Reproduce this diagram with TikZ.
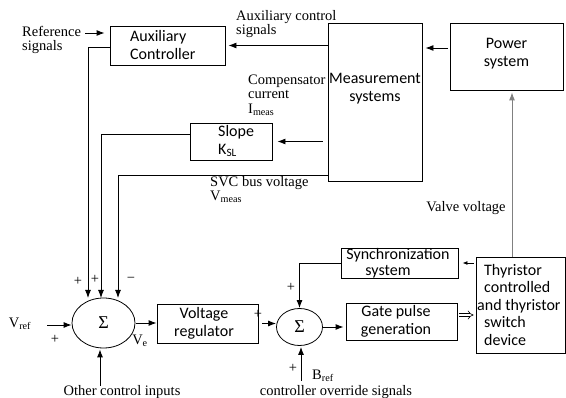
\documentclass[tikz,border=0pt]{standalone}
\usepackage{fontspec}
\setmainfont{Liberation Serif}
\newfontfamily\boxfont{Carlito}
\usetikzlibrary{arrows.meta,shapes.geometric}
\begin{document}
\begin{tikzpicture}[x=1pt,y=-1pt,
  box/.style={draw, line width=0.9pt, inner sep=0pt},
  btxt/.style={inner sep=0pt, font=\boxfont\fontsize{16}{18}\selectfont},
  lbl/.style={font=\fontsize{14.5}{14.5}\selectfont, inner sep=0pt, align=left},
  arr/.style={line width=0.9pt, -{Latex[length=8pt,width=6pt]}},
  sarr/.style={line width=0.9pt, -{Latex[length=5pt,width=4pt]}},
  dbl/.style={double, double distance=2.5pt, line width=0.6pt, -{Implies}},
  sig/.style={draw, ellipse, line width=0.8pt, inner sep=0pt, font=\fontsize{18}{18}\selectfont},
]
\useasboundingbox (0,0) rectangle (566,398);
% boxes
\node[box, minimum width=115pt, minimum height=39pt] (aux) at (167.5,45.5) {};
\node[btxt, anchor=west, align=left] (auxtxt) at (130,45.5) {Auxiliary\\Controller};
\node[box, minimum width=94pt, minimum height=158pt] (meas) at (375,102) {};
\node[btxt, align=center] (meastxt) at (375,89) {Measurement\\systems};
\node[box, minimum width=113pt, minimum height=67pt] (pow) at (506.5,56.5) {};
\node[btxt, align=center] (powtxt) at (506.5,54) {Power\\system};
\node[box, minimum width=82pt, minimum height=37pt] (slope) at (231,141.5) {};
\node[btxt, anchor=west, align=left] (slopetxt) at (218,141) {Slope\\K\textsubscript{SL}};
\node[box, minimum width=101pt, minimum height=39pt] (vr) at (207.5,323.5) {};
\node[btxt, align=center] (vrtxt) at (204,323) {Voltage\\regulator};
\node[sig, minimum width=63pt, minimum height=50pt] (s1) at (103.5,323) {Σ};
\node[sig, minimum width=46pt, minimum height=37pt] (s2) at (299.5,327) {Σ};
\node[box, minimum width=117pt, minimum height=30pt] (sync) at (399.5,263) {};
\node[btxt, align=center, font=\boxfont\fontsize{16}{16.5}\selectfont] (synctxt) at (398,263) {Synchronization\\system\hspace*{20pt}};
\node[box, minimum width=111pt, minimum height=37pt] (gate) at (401.5,321.5) {};
\node[btxt, align=center] (gatetxt) at (396,321) {Gate pulse\\generation};
\node[box, minimum width=89pt, minimum height=96pt] (thy) at (520.5,305) {};
\node[btxt, anchor=west, align=left, font=\boxfont\fontsize{16}{17.5}\selectfont] (thytxt) at (484,305) {Thyristor\\controlled\\\hspace*{-7pt}and thyristor\\switch\\device};
% coordinates
\coordinate (in1) at (88,298);
\coordinate (in2) at (101,298);
\coordinate (in3) at (118,298);
\coordinate (refend) at (85,33);
\coordinate (pm) at (450,48);
\coordinate (vv) at (512,257);
\coordinate (vrefs) at (47,325);
\coordinate (oci) at (100,386);
\coordinate (cos) at (301,381);
% connectors
\draw[arr, shorten >=5pt] (refend) -- (refend -| aux.west);
\draw[arr] ([yshift=-1.5pt]aux.west) -| (in1);
\draw[arr] ([yshift=7.5pt]slope.west) -| (in2);
\draw[arr] ([yshift=-73pt]meas.west) -| (in3);
\draw[arr, shorten >=3pt] (meas.west |- aux.east) -- (aux.east);
\draw[arr, shorten >=5pt, shorten <=5pt] (meas.west |- slope.east) -- (slope.east);
\draw[arr, shorten >=3pt, shorten <=2pt] (pm) -- (pm -| meas.east);
\draw[arr, gray, shorten >=2pt] (vv) -- (vv |- pow.south);
\draw[sarr, shorten >=4pt, shorten <=2pt] (thy.west |- sync.east) -- (sync.east);
\draw[arr] (sync.west) -| (s2.north);
\draw[arr, shorten <=1pt] (s1.east) -- (s1.east -| vr.west);
\draw[arr, shorten <=4pt] (vr.east) -- (vr.east -| s2.west);
\draw[arr, shorten >=2pt] (s2.east) -- (s2.east -| gate.west);
\draw[dbl, shorten <=2pt, shorten >=2pt] ([yshift=6.5pt]gate.east) -- ([yshift=6.5pt]gate.east -| thy.west);
\draw[arr] (vrefs) -- (vrefs -| s1.west);
\draw[arr, shorten >=1pt] (oci) -- (oci |- s1.south);
\draw[arr, shorten >=1pt] (cos) -- (cos |- s2.south);
% labels
\node[lbl, anchor=west] (reflbl) at (22,40) {Reference\\signals};
\node[lbl, anchor=west] (acs) at (236,24) {Auxiliary control\\signals};
\node[lbl, anchor=west] (cc) at (248,95) {Compensator\\current\\I\textsubscript{meas}};
\node[lbl, anchor=west] (svc) at (210,189.5) {SVC bus voltage\\V\textsubscript{meas}};
\node[lbl] (vvl) at (466,208) {Valve voltage};
\node[lbl] (ocil) at (122,392) {Other control inputs};
\node[lbl] (cosl) at (336,392) {controller override signals};
\node[lbl, anchor=west] (bref) at (312,376) {B\textsubscript{ref}};
\node[lbl] (vref) at (20,324) {V\textsubscript{ref}};
\node[lbl] (ve) at (140,341) {V\textsubscript{e}};
\node[lbl] (p1) at (78,281) {+};
\node[lbl] (p2) at (95,279) {+};
\node[lbl] (m1) at (131,280) {−};
\node[lbl] (p3) at (55,339) {+};
\node[lbl] (p4) at (258,314) {+};
\node[lbl] (p5) at (291,287) {+};
\node[lbl] (p6) at (293,368) {+};
\end{tikzpicture}
\end{document}
